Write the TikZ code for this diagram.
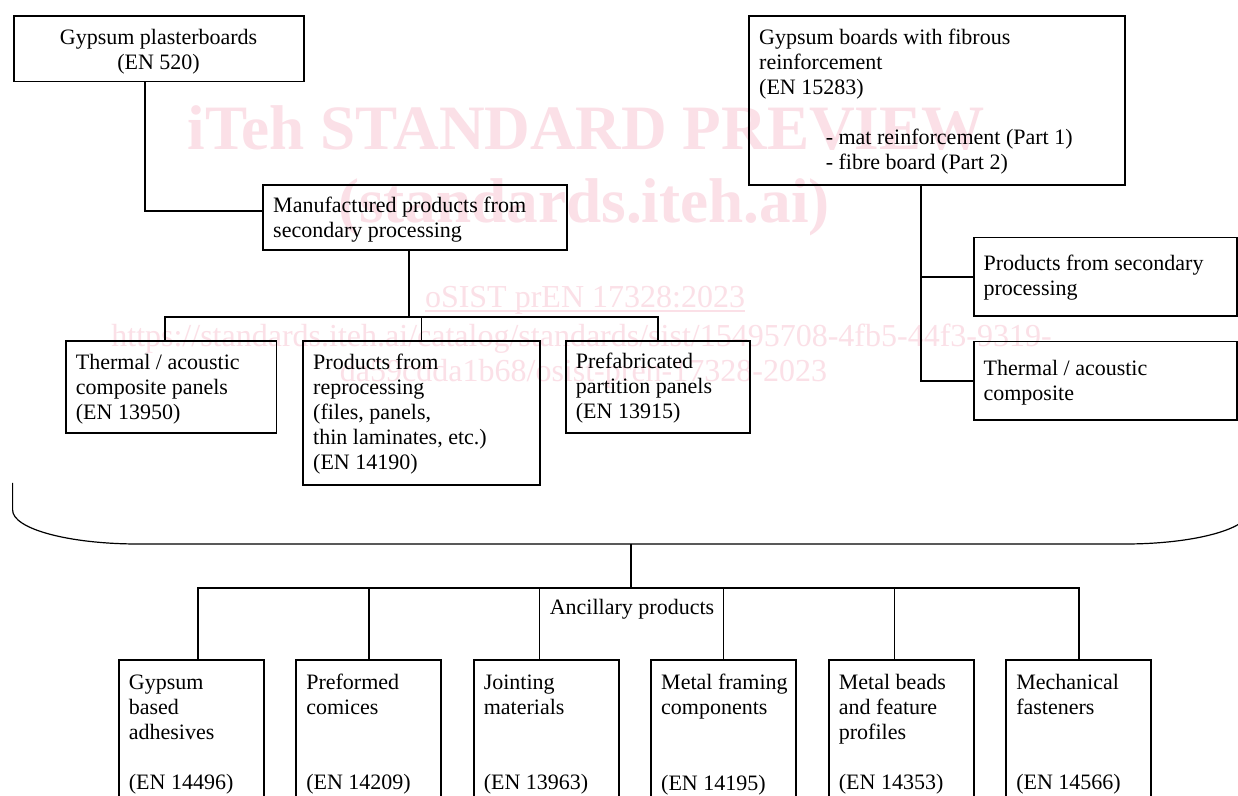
\documentclass[tikz,border=0pt]{standalone}
\usepackage{fontspec}
\setmainfont{Liberation Serif}
\usetikzlibrary{calc}
\definecolor{wm}{RGB}{251,224,231}
% left-aligned box content: width, height, first baseline, text
\newcommand\bxl[4]{\parbox[c][#2][t]{#1}{\raggedright\leftskip=5pt\relax\rule{0pt}{#3}#4}}
% centred box content
\newcommand\bxm[4]{\parbox[c][#2][t]{#1}{\centering\rule{0pt}{#3}#4}}
\newcommand\wmul[1]{\setbox0\hbox{#1}\rlap{\rule[-1.8pt]{\wd0}{0.7pt}}\box0}
\begin{document}
\begin{tikzpicture}[x=0.5pt,y=-0.5pt,
  every node/.style={font=\fontsize{11}{12.5}\selectfont},
  pbox/.style={draw, line width=0.9pt, inner sep=0pt, anchor=north west},
  conn/.style={line width=0.9pt},
  ancln/.style={line width=0.75pt},
  curveln/.style={line width=0.6pt},
  wmk/.style={text=wm, inner sep=0pt, anchor=base}]
\useasboundingbox (0,0) rectangle (1238,796);
\fill[white] (0,0) rectangle (1238,796);
\clip (0,0) rectangle (1238,796);

% watermark
\node[wmk, font=\fontsize{31.6}{36}\selectfont\bfseries] (w1) at (586.5,150) {iTeh STANDARD PREVIEW};
\node[wmk, font=\fontsize{31.6}{36}\selectfont\bfseries] (w2) at (584,223) {(standards.iteh.ai)};
\node[wmk, font=\fontsize{16}{18}\selectfont] (w3) at (585,308) {\wmul{oSIST prEN 17328:2023}};
\node[wmk, font=\fontsize{16}{18}\selectfont] (w4) at (581.5,347) {https://standards.iteh.ai/catalog/standards/sist/15495708-4fb5-44f3-9319-};
\node[wmk, font=\fontsize{16}{18}\selectfont] (w5) at (583.5,382) {da59cdda1b68/osist-pren-17328-2023};

% upper boxes
\node[pbox] (A) at (12.7,15) {\bxm{145pt}{32.8pt}{14.2pt}{Gypsum plasterboards\\(EN 520)}};
\node[pbox] (B) at (262.3,184.3) {\bxl{151.7pt}{32.5pt}{13.7pt}{Manufactured products from\\secondary processing}};
\node[pbox] (C) at (65,340) {\bxl{105.3pt}{46pt}{14.2pt}{Thermal / acoustic\\composite panels\\(EN 13950)}};
\node[pbox] (D) at (302.3,340) {\bxl{118.3pt}{72pt}{14.2pt}{Products from\\reprocessing\\(files, panels,\\thin laminates, etc.)\\(EN 14190)}};
\node[pbox] (E) at (565,340) {\bxl{92pt}{46pt}{13.8pt}{Prefabricated\\partition panels\\(EN 13915)}};
\node[pbox] (F) at (748.3,15) {\bxl{188pt}{84.7pt}{14.2pt}{Gypsum boards with fibrous\\reinforcement\\(EN 15283)\\[12.5pt]\hspace*{33.3pt}- mat reinforcement (Part 1)\\\hspace*{33.3pt}- fibre board (Part 2)}};
\node[pbox] (G) at (972.7,236.7) {\bxl{131.7pt}{39.2pt}{16.7pt}{Products from secondary\\processing}};
\node[pbox] (H) at (972.7,340.7) {\bxl{131.7pt}{39.3pt}{17pt}{Thermal / acoustic\\composite}};

% upper connectors
\draw[conn] ([xshift=-6.7pt]A.south) |- ([yshift=3.4pt]B.west);
\coordinate (j0) at ([xshift=-3.15pt]B.south);
\coordinate (j1) at ([xshift=-3.15pt,yshift=-33pt]B.south);
\draw[conn] (j0) -- (j1);
\draw[conn] ([xshift=-3.05pt]C.north) |- (j1) -| (E.north);
\draw[conn] (D.north) -- (D.north |- j1);
\coordinate (fj) at ([xshift=-8.15pt]F.south);
\draw[conn] (fj) |- (G.west);
\draw[conn] (fj) |- (H.west);

% grouping curve
\draw[curveln] (12.6,483) -- (12.6,510) .. controls (12.6,529) and (69,544) .. (138,544)
  -- (1125,544) .. controls (1194,544) and (1250,529) .. (1250,510) -- (1250,483);
\coordinate (cb) at (631,544);
\coordinate (bus) at (631,588);
\node[anchor=base, inner sep=0pt] (anc) at (632,615) {Ancillary products};

% lower boxes
\node[pbox] (g1) at (118,659.3) {\bxl{72.5pt}{81pt}{14.5pt}{Gypsum\\based\\adhesives\\[12.5pt](EN 14496)}};
\node[pbox] (g2) at (295.4,659.3) {\bxl{72.5pt}{81pt}{14.5pt}{Preformed\\comices\\[25pt](EN 14209)}};
\node[pbox] (g3) at (472.9,659.3) {\bxl{72.5pt}{81pt}{14.5pt}{Jointing\\materials\\[25pt](EN 13963)}};
\node[pbox] (g4) at (650.3,659.3) {\bxl{72.5pt}{81pt}{14.5pt}{Metal framing\\components\\[25.5pt](EN 14195)}};
\node[pbox] (g5) at (828,659.3) {\bxl{72.5pt}{81pt}{14.5pt}{Metal beads\\and feature\\profiles\\[12.5pt](EN 14353)}};
\node[pbox] (g6) at (1005.4,659.3) {\bxl{72.5pt}{81pt}{14.5pt}{Mechanical\\fasteners\\[25pt](EN 14566)}};

% lower connectors
\draw[ancln] (cb) -- (bus);
\coordinate (d1) at ([xshift=3.25pt]g1.north);
\coordinate (d3) at ([xshift=-3.4pt]g3.north);
\coordinate (d5) at ([xshift=-3.45pt]g5.north);
\draw[ancln] (d1) |- (bus) -| (g6.north);
\draw[ancln] (g2.north) -- (g2.north |- bus);
\draw[ancln] (d3) -- (d3 |- bus);
\draw[ancln] (g4.north) -- (g4.north |- bus);
\draw[ancln] (d5) -- (d5 |- bus);
\end{tikzpicture}
\end{document}
